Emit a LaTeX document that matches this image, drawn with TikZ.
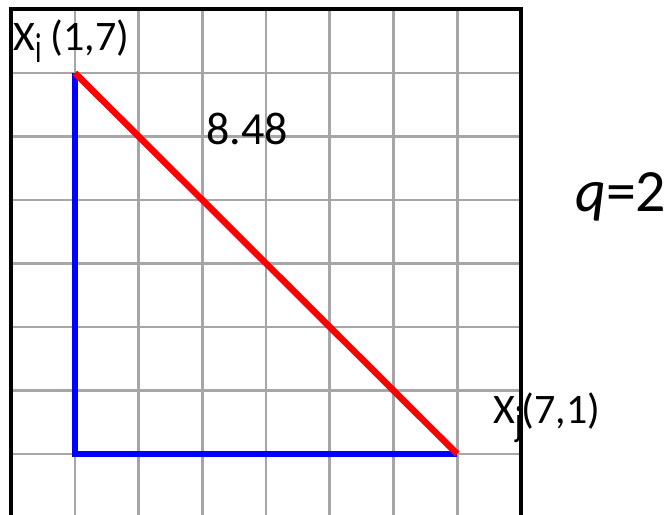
\documentclass[tikz,border=0pt]{standalone}
\usepackage{fontspec}
\usepackage{graphicx}
\setmainfont{Carlito}
\definecolor{gridgray}{HTML}{A6A6A6}
\definecolor{lineblue}{HTML}{0000FF}
\definecolor{linered}{HTML}{FF0000}
\newcommand\ptsub[1]{\raisebox{-12pt}{\scalebox{1}[1.5]{\fontsize{28}{30}\selectfont #1}}}
\begin{document}
\begin{tikzpicture}[x=63.7pt,y=63.5pt,
  gridline/.style={draw=gridgray,line width=2.7pt},
  frameline/.style={draw=black,line width=4pt},
  legline/.style={draw=lineblue,line width=6.5pt,line join=miter},
  hypline/.style={draw=linered,line width=6.5pt},
  lbl/.style={inner sep=0pt,anchor=base west,font=\fontsize{42}{46}\selectfont},
  biglbl/.style={inner sep=0pt,anchor=base west,font=\fontsize{46}{50}\selectfont},
  qlbl/.style={inner sep=0pt,anchor=base west,font=\fontsize{60}{66}\selectfont}]
\useasboundingbox (-0.1774,0.0394) rectangle (10.372,8.1496);
\clip (-0.1774,0.0394) rectangle (10.372,8.1496);
% grid
\foreach \k in {1,...,7} {
  \draw[gridline] (\k,0) -- (\k,8);
  \draw[gridline] (0,\k) -- (8,\k);
}
% points
\coordinate (xi) at (1,7);
\coordinate (corner) at (1,1);
\coordinate (xj) at (7,1);
% legs
\draw[legline] (xi) -- (corner) -- (xj);
% hypotenuse
\draw[hypline] (xi) -- (xj);
% labels
\node[lbl] (labi) at (0.027,7.362) {X\ptsub{i} (1,7)};
\node[lbl] (labj) at (7.562,1.488) {X\ptsub{j}(7,1)};
\node[biglbl] (dist) at (3.057,5.866) {8.48};
\node[qlbl] (q) at (8.849,4.811) {\textit{q}=2};
% frame
\draw[frameline] (0,0) rectangle (8,8);
\end{tikzpicture}
\end{document}
